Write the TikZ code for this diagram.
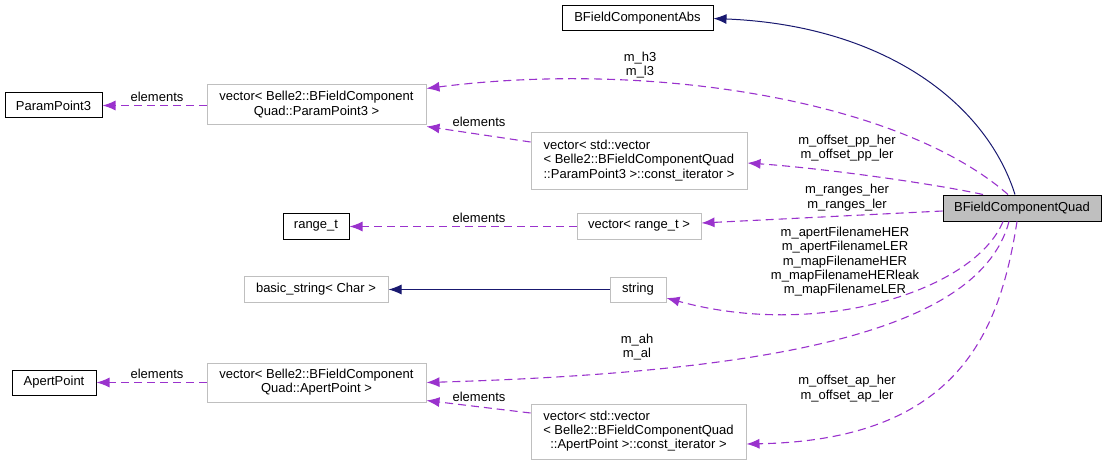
\documentclass[tikz,border=0pt]{standalone}
\usepackage{fontspec}
\setmainfont{Liberation Sans}
\usetikzlibrary{arrows.meta}
\definecolor{dpurple}{HTML}{9A32CD}
\definecolor{dnavy}{HTML}{191970}
\definecolor{dgrey}{HTML}{BFBFBF}
\begin{document}
\begin{tikzpicture}[x=1pt,y=-1pt,
  every node/.style={font=\fontsize{13}{14.3}\selectfont, inner sep=0pt},
  blk/.style={draw=black, line width=1pt, fill=white},
  gry/.style={draw=dgrey, line width=1pt, fill=white},
  usage/.style={draw=dpurple, line width=1.1pt, dash pattern=on 8pt off 5pt, -{Latex[length=13pt,width=10pt]}},
  inherit/.style={draw=dnavy, line width=1pt, -{Latex[length=13pt,width=10pt]}},
  lbl/.style={align=center}
]
\useasboundingbox (0,0) rectangle (1107,465);

% nodes
\node[blk, minimum width=151pt, minimum height=25pt] (abs) at (637.5,18.5) {BFieldComponentAbs};
\node[blk, minimum width=97pt, minimum height=25pt] (pp3) at (53.5,105.5) {ParamPoint3};
\node[gry, minimum width=219pt, minimum height=40pt] (vecpp3) at (316.5,105) {\begin{tabular}{@{}c@{}}vector< Belle2::BFieldComponent\\Quad::ParamPoint3 >\end{tabular}};
\node[gry, minimum width=216pt, minimum height=56pt] (iterpp3) at (639,161) {\begin{tabular}{@{}l@{}}vector< std::vector\\< Belle2::BFieldComponentQuad\\\multicolumn{1}{@{}c@{}}{::ParamPoint3 >::const\_iterator >}\end{tabular}};
\node[blk, minimum width=66pt, minimum height=26pt] (ranget) at (316,226) {range\_t};
\node[gry, minimum width=124pt, minimum height=26pt] (vecrange) at (639,226) {vector< range\_t >};
\node[blk, fill=dgrey, minimum width=158pt, minimum height=26pt] (quad) at (1022,208) {BFieldComponentQuad};
\node[gry, minimum width=144pt, minimum height=26pt] (bstr) at (316,289.5) {basic\_string< Char >};
\node[gry, minimum width=56pt, minimum height=25pt] (str) at (638,289.5) {string};
\node[blk, minimum width=84pt, minimum height=25pt] (apt) at (54,382.5) {ApertPoint};
\node[gry, minimum width=219pt, minimum height=39pt] (vecap) at (316.5,382.5) {\begin{tabular}{@{}c@{}}vector< Belle2::BFieldComponent\\Quad::ApertPoint >\end{tabular}};
\node[gry, minimum width=215pt, minimum height=55pt] (iterap) at (638.5,431.5) {\begin{tabular}{@{}l@{}}vector< std::vector\\< Belle2::BFieldComponentQuad\\\multicolumn{1}{@{}c@{}}{::ApertPoint >::const\_iterator >}\end{tabular}};

% edges
\draw[inherit] ([xshift=-7pt]quad.north) .. controls (985,100) and (880,25) .. (abs.east);
\draw[usage] ([xshift=-14pt]quad.north) .. controls (900,100) and (650,60) .. ([yshift=-4pt]vecpp3.north east);
\draw[usage] ([xshift=-39pt]quad.north) .. controls (930,183) and (820,168) .. ([yshift=-2pt]iterpp3.east);
\draw[usage] ([yshift=-3pt]quad.west) -- ([yshift=3pt]vecrange.east);
\draw[usage] ([xshift=-19pt]quad.south) .. controls (975,290) and (820,340) .. ([yshift=-8.5pt]str.east);
\draw[usage] ([xshift=-13pt]quad.south) .. controls (980,330) and (780,372) .. (vecap.east);
\draw[usage] ([xshift=-5pt]quad.south) .. controls (1000,330) and (960,440) .. ([yshift=-12.5pt]iterap.east);
\draw[usage] ([yshift=-0.5pt]vecpp3.west) -- (pp3.east);
\draw[usage] ([yshift=19pt]iterpp3.west) -- ([yshift=-1pt]vecpp3.south east);
\draw[usage] ([yshift=-0.5pt]vecrange.west) -- ([yshift=-0.5pt]ranget.east);
\draw[inherit] (str.west) -- (bstr.east);
\draw[usage] (vecap.west) -- (apt.east);
\draw[usage] ([yshift=18.5pt]iterap.west) -- ([yshift=2pt]vecap.south east);

% labels
\node[lbl] (l1) at (157,97) {elements};
\node[lbl] (l2) at (479,122) {elements};
\node[lbl] (l3) at (479,218) {elements};
\node[lbl] (l4) at (157,374) {elements};
\node[lbl] (l5) at (479,397) {elements};
\node[lbl] (lh) at (640,65) {m\_h3\\m\_l3};
\node[lbl] (lpp) at (847,148) {m\_offset\_pp\_her\\m\_offset\_pp\_ler};
\node[lbl] (lrg) at (847,197.5) {m\_ranges\_her\\m\_ranges\_ler};
\node[lbl] (lfn) at (845,261.7) {m\_apertFilenameHER\\m\_apertFilenameLER\\m\_mapFilenameHER\\m\_mapFilenameHERleak\\m\_mapFilenameLER};
\node[lbl] (lah) at (637,347) {m\_ah\\m\_al};
\node[lbl] (lap) at (847,388.5) {m\_offset\_ap\_her\\m\_offset\_ap\_ler};
\end{tikzpicture}
\end{document}
